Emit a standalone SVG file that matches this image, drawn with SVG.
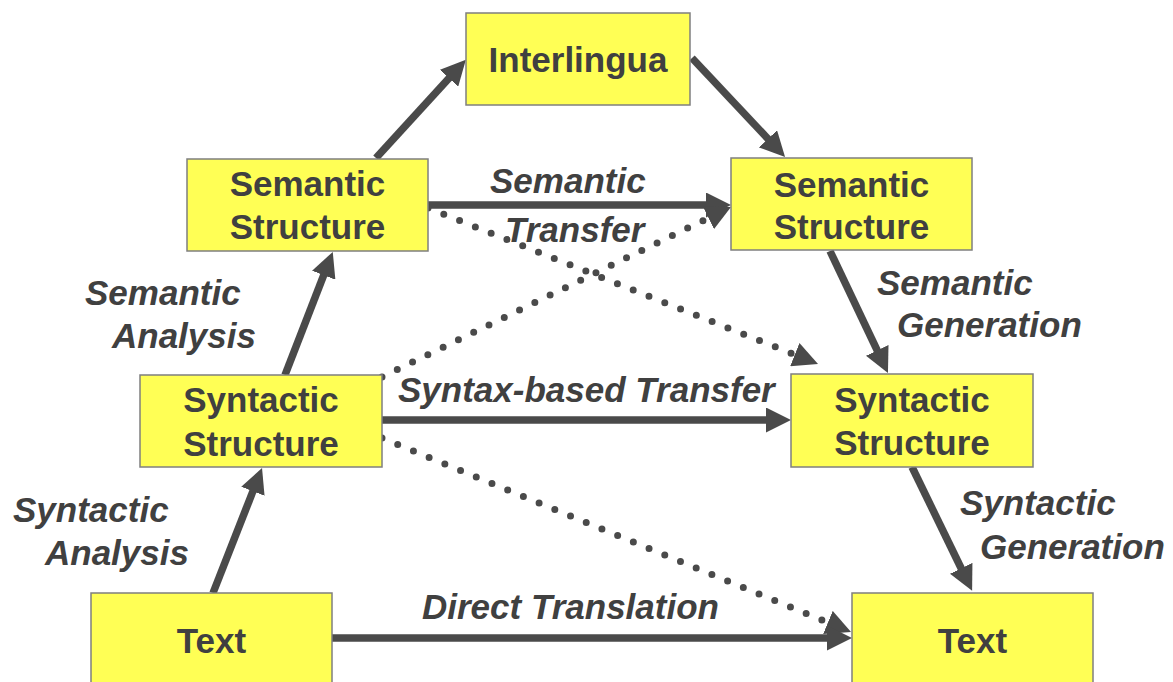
<svg xmlns="http://www.w3.org/2000/svg" width="1173" height="682" viewBox="0 0 1173 682">
<style>
.box{fill:#ffff55;stroke:#7f7f7f;stroke-width:1.5}
.nt{font-family:"Liberation Sans",Arial,sans-serif;font-weight:bold;font-size:35px;fill:#404040;text-anchor:middle}
.lb{font-family:"Liberation Sans",Arial,sans-serif;font-weight:bold;font-style:italic;font-size:35px;fill:#404040}
.solid{stroke:#4a4a4a;stroke-width:7.5;fill:none;marker-end:url(#ah)}
.dot{stroke:#4a4a4a;stroke-width:7;fill:none;stroke-linecap:round;stroke-dasharray:0 17;marker-end:url(#ah)}
</style>
<defs>
<marker id="ah" viewBox="0 0 25 25" refX="3" refY="12.5" markerWidth="25" markerHeight="25" markerUnits="userSpaceOnUse" orient="auto">
<path d="M0,0 L25,12.5 L0,25 z" fill="#4a4a4a"/>
</marker>
</defs>
<rect width="1173" height="682" fill="#ffffff"/>
<g id="connectors">
<line class="solid" x1="376" y1="158" x2="451" y2="76"/>
<line class="solid" x1="692" y1="58" x2="770" y2="141"/>
<line class="solid" x1="428" y1="205" x2="709" y2="205" stroke-linecap="round"/>
<line class="dot" x1="428" y1="208" x2="797.6" y2="355.8"/>
<line class="dot" x1="382" y1="377" x2="711.2" y2="216.6"/>
<line class="solid" x1="382" y1="420" x2="769" y2="420"/>
<line class="dot" x1="382" y1="438" x2="830.7" y2="623.6"/>
<line class="solid" x1="332" y1="638" x2="830" y2="638"/>
<line class="solid" x1="213" y1="593" x2="254" y2="488.5"/>
<line class="solid" x1="285" y1="375" x2="324.8" y2="272.4"/>
<line class="solid" x1="830" y1="251" x2="878.5" y2="353.1"/>
<line class="solid" x1="912" y1="467" x2="962.5" y2="571"/>
</g>
<g id="labels">
<text class="lb" x="490" y="193">Semantic</text>
<text class="lb" x="505" y="242">Transfer</text>
<text class="lb" x="85" y="305">Semantic</text>
<text class="lb" x="112" y="348">Analysis</text>
<text class="lb" x="13" y="522">Syntactic</text>
<text class="lb" x="45" y="565">Analysis</text>
<text class="lb" x="398" y="402">Syntax-based Transfer</text>
<text class="lb" x="422" y="619">Direct Translation</text>
<text class="lb" x="877" y="295">Semantic</text>
<text class="lb" x="897" y="337">Generation</text>
<text class="lb" x="960" y="515">Syntactic</text>
<text class="lb" x="980" y="559">Generation</text>
</g>
<g id="interlingua">
<rect class="box" x="466" y="13" width="224" height="92"/>
<text class="nt" x="578" y="72">Interlingua</text>
</g>
<g id="semantic-left">
<rect class="box" x="187" y="159" width="241" height="92"/>
<text class="nt" x="307.5" y="196">Semantic</text>
<text class="nt" x="307.5" y="239">Structure</text>
</g>
<g id="semantic-right">
<rect class="box" x="731" y="158" width="241" height="92"/>
<text class="nt" x="851.5" y="197">Semantic</text>
<text class="nt" x="851.5" y="239">Structure</text>
</g>
<g id="syntactic-left">
<rect class="box" x="140" y="375" width="242" height="92"/>
<text class="nt" x="261" y="412">Syntactic</text>
<text class="nt" x="261" y="456">Structure</text>
</g>
<g id="syntactic-right">
<rect class="box" x="791" y="374" width="242" height="93"/>
<text class="nt" x="912" y="412">Syntactic</text>
<text class="nt" x="912" y="455">Structure</text>
</g>
<g id="text-left">
<rect class="box" x="91" y="593" width="241" height="100"/>
<text class="nt" x="211.5" y="653">Text</text>
</g>
<g id="text-right">
<rect class="box" x="852" y="593" width="241" height="100"/>
<text class="nt" x="972.5" y="653">Text</text>
</g>
</svg>
